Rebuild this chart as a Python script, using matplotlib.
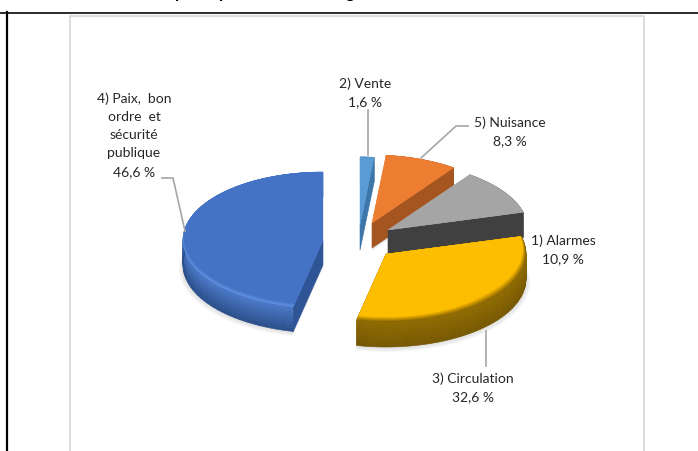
import numpy as np
from matplotlib import pyplot as plt
from matplotlib.collections import PolyCollection
from matplotlib.colors import to_rgb

plt.rcParams['font.family'] = ['Lato', 'DejaVu Sans']

names = ['2) Vente', '5) Nuisance', '1) Alarmes', '3) Circulation', '4) Paix,  bon\nordre  et\nsécurité\npublique']
values = [1.6, 8.3, 10.9, 32.6, 46.6]
title_bits = ['p', 'p', 'g']

# one style per slice: apex on the page, face, rim, wall top/bottom, cut wall
apex = [(360, 225), (372, 223), (388, 230), (386, 254), (323, 240)]
face = ['#5b9bd5', '#ed7d31', '#a5a5a5', '#fdbd00', '#4472c4']
rim = ['#5b9bd5', '#ed7d31', '#a5a5a5', '#8a6500', '#5f90e0']
wall_top = ['#41719c', '#a9561e', '#5a5a5a', '#7a5a00', '#4a78c8']
wall_bot = ['#41719c', '#9c5019', '#404040', '#5c4300', '#2a4f8c']
cut = ['#3d76a8', '#a5551f', '#404040', '#7a5a00', '#2f5597']
rim_w = [0, 0, 0, 0.075, 0.05]
rim_base = [0, 0, 0, 0.35, 0.15]

RX, RY, DEPTH = 140, 68, 25

def pt(c, a, r=1.0, d=0):
    return np.column_stack([c[0] + RX * r * np.sin(a), c[1] - RY * r * np.cos(a) + d])

def mix(c1, c2, t):
    return tuple(np.array(to_rgb(c1)) * (1 - t) + np.array(to_rgb(c2)) * t)

def sector(c, a0, a1, width=0.0, d=0, base=0.0):
    a = np.linspace(a0, a1, 120)
    r = 1 - width * np.clip(base - np.cos(a), 0, 1)
    return np.vstack([[c[0], c[1] + d], pt(c, a, r, d)])

def draw_slice(ax, i, a0, a1):
    c = apex[i]
    # soft shadow
    for k in range(5, 0, -1):
        ax.fill(*sector(c, a0, a1, -k * 0.006, DEPTH + k * 0.6, 1).T, color='#808080', alpha=0.05, lw=0)
    # outer wall, strips along the arc and down the depth
    a = np.linspace(a0, a1, 70)
    ds = np.linspace(0, DEPTH, 13)
    quads, cols = [], []
    for j in range(len(a) - 1):
        light = 0.22 * np.clip((np.radians(215) - a[j]) / np.radians(30), 0, 1) if i == 3 else 0
        for k in range(len(ds) - 1):
            p0 = pt(c, a[j:j + 2], 1, ds[k])
            p1 = pt(c, a[j:j + 2], 1, ds[k + 1])
            quads.append(np.vstack([p0, p1[::-1]]))
            col = mix(wall_top[i], wall_bot[i], k / (len(ds) - 2))
            cols.append(mix(col, '#d8a200', light))
    ax.add_collection(PolyCollection(quads, facecolors=cols, edgecolors=cols, linewidths=0.4))
    # cut side that faces the viewer
    for edge, vis in ((a0, -np.sin(a0)), (a1, np.sin(a1))):
        if vis > 0.01:
            outer = pt(c, np.array([edge]))[0]
            ax.fill([c[0], outer[0], outer[0], c[0]], [c[1], outer[1], outer[1] + DEPTH, c[1] + DEPTH],
                    color=cut[i], lw=0.4)
    # top face with its rim
    ax.fill(*sector(c, a0, a1).T, color=rim[i], lw=0.3)
    n = 8 if rim_w[i] else 1
    for k in range(n):
        t = (k + 1) / n
        ax.fill(*sector(c, a0, a1, rim_w[i] * t, 0, rim_base[i]).T, color=mix(rim[i], face[i], t), lw=0)

fig = plt.figure(figsize=(6.98, 4.51), dpi=100)
ax = fig.add_axes([0, 0, 1, 1])
ax.set_xlim(0, 698)
ax.set_ylim(451, 0)
ax.axis('off')

# page frame and chart border
ax.plot([0, 698], [12.5, 12.5], color='#1a1a1a', lw=1.3)
ax.plot([6.5, 6.5], [12, 451], color='black', lw=1.6)
ax.plot([69.5, 69.5, 643.5, 643.5], [451, 15.5, 15.5, 451], color='#d9d9d9', lw=1.3)
for x, s in zip([180, 224, 350], title_bits):
    ax.text(x, -2, s, fontsize=12, fontweight='bold', ha='center', va='baseline', clip_on=True)

# slices run clockwise from the top
edges = np.radians(np.cumsum([0] + values) / sum(values) * 360)
for i in [4, 0, 1, 2, 3]:
    draw_slice(ax, i, edges[i], edges[i + 1])

# leader lines
leaders = [([368, 368], [110, 155]),
           ([468, 456, 421], [126, 126, 158]),
           ([162, 173, 185], [178, 178, 231]),
           ([486, 486], [331, 366])]
for xs, ys in leaders:
    ax.plot(xs, ys, color='#a6a6a6', lw=1.2)

label_pos = [(365, 92.5), (510, 132), (563, 249.5), (473, 387.5), (134, 135)]
for (x, y), name, v in zip(label_pos, names, values):
    txt = name + '\n' + f'{v:.1f}'.replace('.', ',') + ' %'
    ax.text(x, y, txt, fontsize=10, color='#262626', ha='center', va='center', linespacing=1.62)

fig.savefig('out.png', dpi=100)
